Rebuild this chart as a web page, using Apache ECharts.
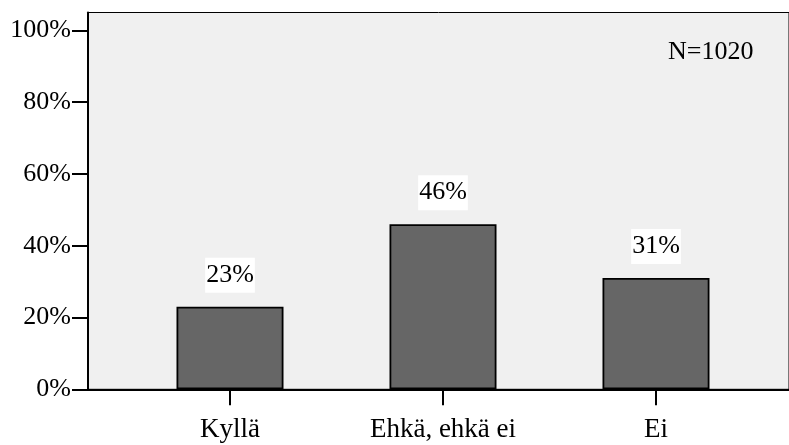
<!DOCTYPE html>
<html>
<head>
<meta charset="utf-8">
<script src="https://cdn.jsdelivr.net/npm/echarts@6/dist/echarts.min.js"></script>
<style>
  html, body { margin: 0; padding: 0; background: #fff; }
  #chart { width: 789px; height: 445px; }
</style>
</head>
<body>
<div id="chart"></div>
<script>
  // data
  const categories = ['Kyllä', 'Ehkä, ehkä ei', 'Ei'];
  const shares = [23, 46, 31];
  const yTicks = [0, 20, 40, 60, 80, 100];
  const note = 'N=1020';

  const serif = 'Liberation Serif';
  const chart = echarts.init(document.getElementById('chart'));

  chart.setOption({
    animation: false,
    grid: [
      // frame with the grey background and the axis lines
      { left: 88, top: 12.5, right: -2, bottom: 55.7, show: true,
        backgroundColor: '#f0f0f0', borderColor: '#000', borderWidth: 1 },
      // the bars sit in a narrower band inside the frame
      { left: 123.5, width: 639, top: 12.5, bottom: 55.7 }
    ],
    xAxis: [
      { gridIndex: 0, type: 'value', min: 0, max: 1,
        axisLine: { show: true, onZero: false, lineStyle: { color: '#000', width: 2 } },
        axisTick: { show: false }, axisLabel: { show: false }, splitLine: { show: false } },
      { gridIndex: 1, type: 'category', data: categories,
        axisLine: { show: false },
        axisTick: { show: true, alignWithLabel: true, length: 16, lineStyle: { color: '#000', width: 2 } },
        axisLabel: { margin: 27, color: '#000', fontFamily: serif, fontSize: 27 } }
    ],
    yAxis: [
      { gridIndex: 0, type: 'value', min: 0, max: 105,
        axisLine: { show: true, lineStyle: { color: '#000', width: 2 } },
        axisTick: { show: true, length: 16, customValues: yTicks, lineStyle: { color: '#000', width: 2 } },
        axisLabel: { customValues: yTicks, margin: 17, formatter: '{value}%',
          color: '#000', fontFamily: serif, fontSize: 26 },
        splitLine: { show: false } },
      { gridIndex: 1, type: 'value', min: 0, max: 105, show: false }
    ],
    series: [{
      type: 'bar',
      xAxisIndex: 1,
      yAxisIndex: 1,
      data: shares,
      barWidth: 107,
      itemStyle: { color: '#666666', borderColor: '#000', borderWidth: 1.8 },
      label: {
        show: true, position: 'top', distance: 14,
        formatter: '{c}%', color: '#000', fontFamily: serif, fontSize: 26,
        backgroundColor: '#fff', padding: [4, 1, 5, 1]
      }
    }],
    graphic: [{
      type: 'text', x: 668, y: 52,
      style: { text: note, fill: '#000', fontFamily: serif, fontSize: 26, verticalAlign: 'middle' }
    }]
  });
</script>
</body>
</html>
